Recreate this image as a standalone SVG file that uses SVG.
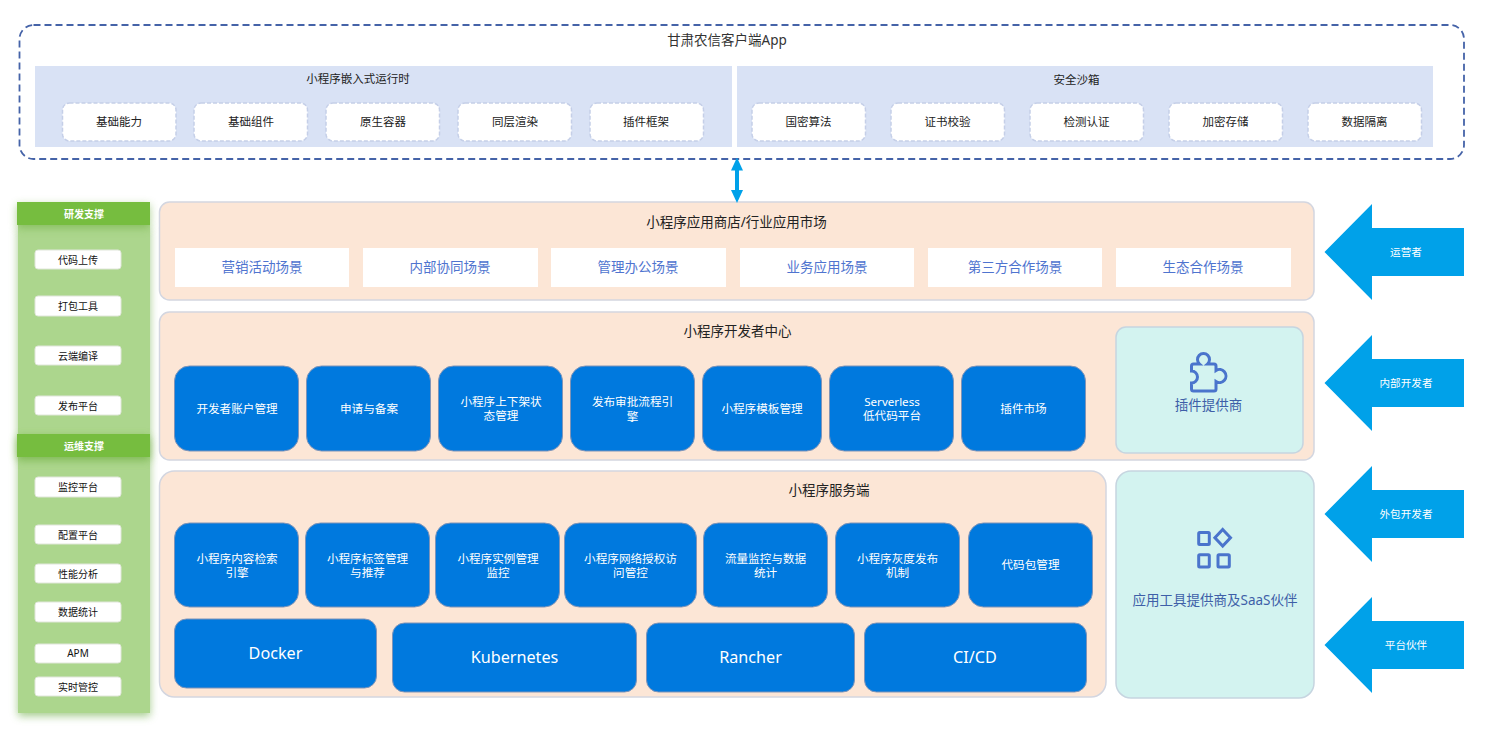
<svg xmlns="http://www.w3.org/2000/svg" width="1495" height="737" viewBox="0 0 1495 737">
<defs>
<style>
text{font-family:"Noto Sans","Noto Sans CJK SC",sans-serif;text-anchor:middle;dominant-baseline:central}
.sm{fill:#fff;stroke:#c5cfe8;stroke-width:1.5;stroke-dasharray:4 2}
.t12{font-size:11.5px;fill:#222}
.t13{font-size:13.5px;fill:#333}
.pan{fill:#fce6d6;stroke:#d3d6e0;stroke-width:1.5}
.sc{fill:#fff}
.st{font-size:13.500px;fill:#4f74cf}
.ti{font-size:13.500px;fill:#222}
.bl{fill:#0079de;stroke:#7f94b8;stroke-width:1}
.bt{font-size:11.600px;fill:#fff}
.bb{font-size:16.200px;fill:#fff}
.tl{fill:#d3f3f0;stroke:#c6d5e0;stroke-width:1.5}
.ar{fill:#00a1e9}
.at{font-size:10.600px;fill:#fff}
.si{fill:#fff;stroke:#e0e6da;stroke-width:1}
.sit{font-size:10px;fill:#111}
.hd{fill:#76bd3f}
.ht{font-size:10px;fill:#fff;font-weight:700}
.ic{fill:none;stroke:#4a74cc;stroke-width:3}
</style>
<filter id="sh" x="-15%" y="-10%" width="130%" height="120%"><feGaussianBlur stdDeviation="4"/></filter>
<filter id="sh2" x="-15%" y="-60%" width="130%" height="220%"><feGaussianBlur stdDeviation="4"/></filter>
<marker id="ah" markerWidth="3.250" markerHeight="3" refX="1" refY="1.500" orient="auto-start-reverse" markerUnits="strokeWidth"><path d="M0 0L3.250 1.500L0 3Z" fill="#00a1e9"/></marker>
</defs>
<rect width="1495" height="737" fill="#fff"/>

<g id="client-app">
<rect x="19.500" y="25" width="1444.500" height="134" rx="14" fill="#fff" stroke="#4563a8" stroke-width="1.800" stroke-dasharray="7 4"/>
<text x="727" y="40" class="t13">甘肃农信客户端App</text>
</g>
<g id="runtime">
<rect x="35" y="66" width="697" height="81" fill="#d9e2f5"/>
<text x="358" y="78" class="t12">小程序嵌入式运行时</text>
</g>
<g id="sandbox">
<rect x="737" y="66" width="696" height="81" fill="#d9e2f5"/>
<text x="1076.500" y="79" class="t12">安全沙箱</text>
</g>
<g id="rt1"><rect class="sm" x="62.500" y="103" width="113.500" height="38" rx="7"/><text x="119" y="121" class="t12">基础能力</text></g>
<g id="rt2"><rect class="sm" x="194" y="103" width="113.500" height="38" rx="7"/><text x="251" y="121" class="t12">基础组件</text></g>
<g id="rt3"><rect class="sm" x="326" y="103" width="113.500" height="38" rx="7"/><text x="383" y="121" class="t12">原生容器</text></g>
<g id="rt4"><rect class="sm" x="458" y="103" width="113.500" height="38" rx="7"/><text x="515" y="121" class="t12">同层渲染</text></g>
<g id="rt5"><rect class="sm" x="590" y="103" width="113.500" height="38" rx="7"/><text x="646" y="121" class="t12">插件框架</text></g>
<g id="sb1"><rect class="sm" x="752" y="103" width="113.500" height="38" rx="7"/><text x="808.500" y="121" class="t12">国密算法</text></g>
<g id="sb2"><rect class="sm" x="891" y="103" width="113.500" height="38" rx="7"/><text x="947.500" y="121" class="t12">证书校验</text></g>
<g id="sb3"><rect class="sm" x="1030" y="103" width="113.500" height="38" rx="7"/><text x="1086.500" y="121" class="t12">检测认证</text></g>
<g id="sb4"><rect class="sm" x="1169" y="103" width="113.500" height="38" rx="7"/><text x="1225.500" y="121" class="t12">加密存储</text></g>
<g id="sb5"><rect class="sm" x="1308" y="103" width="113.500" height="38" rx="7"/><text x="1364.500" y="121" class="t12">数据隔离</text></g>

<g id="side">
<rect x="18" y="228" width="132" height="488" fill="#7db55a" opacity=".7" filter="url(#sh)"/>
<rect x="18" y="225" width="132" height="488" fill="#acd68d"/>
<rect x="17" y="205" width="133" height="23" fill="#6aab3a" opacity=".55" filter="url(#sh2)"/>
<rect x="17" y="202" width="133" height="23" class="hd"/>
<text x="84" y="213.500" class="ht">研发支撑</text>
<rect x="17" y="437" width="133" height="23" fill="#6aab3a" opacity=".7" filter="url(#sh2)"/>
<rect x="17" y="434" width="133" height="23" class="hd"/>
<text x="84" y="445.500" class="ht">运维支撑</text>
</g>
<g id="s1"><rect class="si" x="35" y="250" width="86" height="19" rx="3"/><text x="78" y="259.500" class="sit">代码上传</text></g>
<g id="s2"><rect class="si" x="35" y="296" width="86" height="20" rx="3"/><text x="78" y="306" class="sit">打包工具</text></g>
<g id="s3"><rect class="si" x="35" y="346" width="86" height="19" rx="3"/><text x="78" y="355.500" class="sit">云端编译</text></g>
<g id="s4"><rect class="si" x="35" y="396" width="86" height="19" rx="3"/><text x="78" y="405.500" class="sit">发布平台</text></g>
<g id="s5"><rect class="si" x="35" y="477" width="86" height="20" rx="3"/><text x="78" y="487" class="sit">监控平台</text></g>
<g id="s6"><rect class="si" x="35" y="525" width="86" height="19" rx="3"/><text x="78" y="534.500" class="sit">配置平台</text></g>
<g id="s7"><rect class="si" x="35" y="564" width="86" height="19" rx="3"/><text x="78" y="573.500" class="sit">性能分析</text></g>
<g id="s8"><rect class="si" x="35" y="602" width="86" height="20" rx="3"/><text x="78" y="612" class="sit">数据统计</text></g>
<g id="s9"><rect class="si" x="35" y="644" width="86" height="19" rx="3"/><text x="78" y="653" class="sit">APM</text></g>
<g id="s10"><rect class="si" x="35" y="677" width="86" height="19" rx="3"/><text x="78" y="686.500" class="sit">实时管控</text></g>

<g id="store">
<rect class="pan" x="159.500" y="202" width="1154.500" height="98" rx="10"/>
<text x="736.500" y="221.500" class="ti">小程序应用商店/行业应用市场</text>
</g>
<g id="sc1"><rect class="sc" x="175" y="248" width="174" height="39"/><text x="262" y="267" class="st">营销活动场景</text></g>
<g id="sc2"><rect class="sc" x="363" y="248" width="175" height="39"/><text x="450" y="267" class="st">内部协同场景</text></g>
<g id="sc3"><rect class="sc" x="551" y="248" width="175" height="39"/><text x="638" y="267" class="st">管理办公场景</text></g>
<g id="sc4"><rect class="sc" x="740" y="248" width="174" height="39"/><text x="827" y="267" class="st">业务应用场景</text></g>
<g id="sc5"><rect class="sc" x="928" y="248" width="174" height="39"/><text x="1015" y="267" class="st">第三方合作场景</text></g>
<g id="sc6"><rect class="sc" x="1116" y="248" width="175" height="39"/><text x="1203" y="267" class="st">生态合作场景</text></g>

<g id="devcenter">
<rect class="pan" x="159.500" y="312" width="1154.500" height="148" rx="10"/>
<text x="737.500" y="331" class="ti">小程序开发者中心</text>
</g>
<g id="d1"><rect class="bl" x="174.500" y="366" width="124" height="85" rx="15"/><text x="237" y="408" class="bt">开发者账户管理</text></g>
<g id="d2"><rect class="bl" x="306.500" y="366" width="124" height="85" rx="15"/><text x="369" y="408" class="bt">申请与备案</text></g>
<g id="d3"><rect class="bl" x="438.500" y="366" width="124" height="85" rx="15"/><text x="501" y="401" class="bt">小程序上下架状<tspan x="501" dy="14">态管理</tspan></text></g>
<g id="d4"><rect class="bl" x="570.500" y="366" width="124" height="85" rx="15"/><text x="632.500" y="401.500" class="bt">发布审批流程引<tspan x="632.500" dy="14">擎</tspan></text></g>
<g id="d5"><rect class="bl" x="702.500" y="366" width="119" height="85" rx="15"/><text x="762" y="408" class="bt">小程序模板管理</text></g>
<g id="d6"><rect class="bl" x="829.500" y="366" width="124" height="85" rx="15"/><text x="892" y="401" class="bt">Serverless<tspan x="892" dy="14">低代码平台</tspan></text></g>
<g id="d7"><rect class="bl" x="961.500" y="366" width="124" height="85" rx="15"/><text x="1023.500" y="408" class="bt">插件市场</text></g>

<g id="plugin">
<rect class="tl" x="1116" y="327" width="187" height="126" rx="10"/>
<path class="ic" d="M1191.500 371V366q0-2 2-2H1199.500A6 6 0 1 1 1207.500 364H1214q2 0 2 2v4.500A6.500 6.500 0 1 1 1216 381.500V389q0 2-2 2H1193.500q-2 0-2-2v-6A6 6 0 0 0 1191.500 371Z"/>
<text x="1208.500" y="405" font-size="13.500" fill="#3e5fa8">插件提供商</text>
</g>

<g id="server">
<rect class="pan" x="159.500" y="471" width="946.500" height="226" rx="15"/>
<text x="829" y="490" class="ti">小程序服务端</text>
</g>
<g id="v1"><rect class="bl" x="174.500" y="523" width="124" height="84" rx="15"/><text x="237" y="558" class="bt">小程序内容检索<tspan x="237" dy="14">引擎</tspan></text></g>
<g id="v2"><rect class="bl" x="305.500" y="523" width="124" height="84" rx="15"/><text x="367.500" y="558" class="bt">小程序标签管理<tspan x="367.500" dy="14">与推荐</tspan></text></g>
<g id="v3"><rect class="bl" x="435.500" y="523" width="124" height="84" rx="15"/><text x="498" y="558" class="bt">小程序实例管理<tspan x="498" dy="14">监控</tspan></text></g>
<g id="v4"><rect class="bl" x="564.500" y="523" width="132" height="84" rx="15"/><text x="630.500" y="558" class="bt">小程序网络授权访<tspan x="630.500" dy="14">问管控</tspan></text></g>
<g id="v5"><rect class="bl" x="703.500" y="523" width="124" height="84" rx="15"/><text x="765.500" y="558" class="bt">流量监控与数据<tspan x="765.500" dy="14">统计</tspan></text></g>
<g id="v6"><rect class="bl" x="835.500" y="523" width="124" height="84" rx="15"/><text x="897.500" y="558" class="bt">小程序灰度发布<tspan x="897.500" dy="14">机制</tspan></text></g>
<g id="v7"><rect class="bl" x="968.500" y="523" width="124" height="84" rx="15"/><text x="1030.500" y="564.500" class="bt">代码包管理</text></g>
<g id="k1"><rect class="bl" x="174.500" y="619" width="202" height="69" rx="12"/><text x="275.500" y="652.500" class="bb">Docker</text></g>
<g id="k2"><rect class="bl" x="392.500" y="623" width="244" height="69" rx="12"/><text x="514.500" y="656.500" class="bb">Kubernetes</text></g>
<g id="k3"><rect class="bl" x="646.500" y="623" width="208" height="69" rx="12"/><text x="750.500" y="656.500" class="bb">Rancher</text></g>
<g id="k4"><rect class="bl" x="864.500" y="623" width="222" height="69" rx="12"/><text x="975" y="656.500" class="bb">CI/CD</text></g>

<g id="tools">
<rect class="tl" x="1116" y="471" width="198" height="227" rx="15"/>
<g class="ic">
<rect x="1198.700" y="532.400" width="10.600" height="12.200" rx="1"/>
<rect x="1198.700" y="554.700" width="10.600" height="12.200" rx="1"/>
<rect x="1218" y="554.700" width="11.300" height="12.200" rx="1"/>
<path d="M1222.700 529.500L1230.500 537.700L1222.700 546L1214.900 537.700Z"/>
</g>
<text x="1215" y="600" font-size="13.500" fill="#3e5fa8">应用工具提供商及SaaS伙伴</text>
</g>

<g id="a1"><path class="ar" d="M1324.500 252L1372 204V228H1464V276H1372V300Z"/><text x="1406" y="252" class="at">运营者</text></g>
<g id="a2"><path class="ar" d="M1324.500 383L1372 335V359H1464V407H1372V431Z"/><text x="1406" y="383" class="at">内部开发者</text></g>
<g id="a3"><path class="ar" d="M1324.500 514L1372 466V490H1464V538H1372V562Z"/><text x="1406" y="514" class="at">外包开发者</text></g>
<g id="a4"><path class="ar" d="M1324.500 645L1372 597V621H1464V669H1372V693Z"/><text x="1406" y="645" class="at">平台伙伴</text></g>

<g id="connectors">
<line x1="737" y1="166.500" x2="737" y2="194" stroke="#00a1e9" stroke-width="4" marker-start="url(#ah)" marker-end="url(#ah)"/>
</g>
</svg>
